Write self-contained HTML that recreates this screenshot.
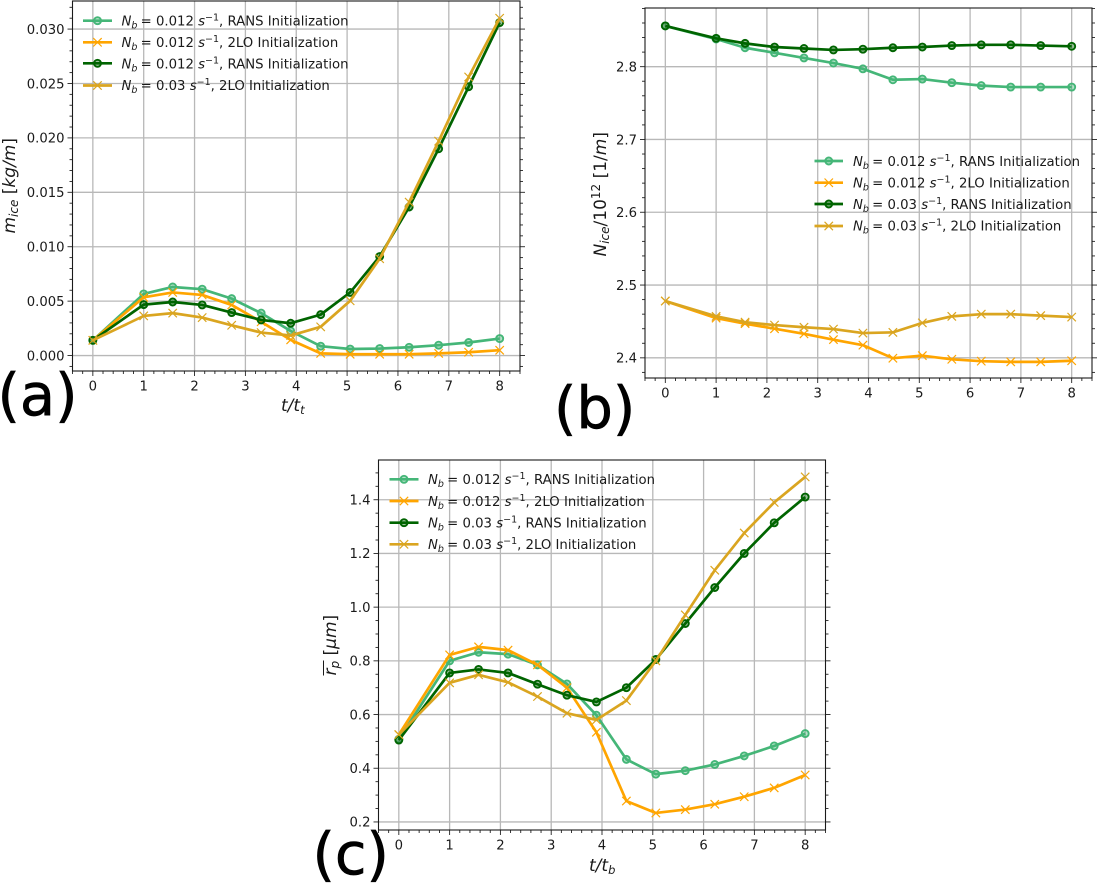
<!DOCTYPE html>
<html lang="en">
<head>
<meta charset="utf-8">
<title>Ice mass, number and particle radius panels</title>
<style>
html,body{margin:0;padding:0;background:#fff;width:1097px;height:883px;overflow:hidden}
svg{display:block;font-family:"DejaVu Sans","Liberation Sans",sans-serif;fill:#1a1a1a}
.leg{font-size:13.25px;white-space:pre}
.ax{font-size:17px;white-space:pre}
.big{font-size:57.5px;fill:#000;stroke:#000;stroke-width:0.7px}
.i{font-style:italic}
.tick-label{font-size:13.2px}
</style>
</head>
<body>
<svg id="figure" xmlns="http://www.w3.org/2000/svg" width="1097" height="883" viewBox="0 0 1097 883">
  <g id="panel-a"></g>
  <g id="panel-b"></g>
  <g id="panel-c"></g>

  <g>
    <text class="leg" x="121.5" y="25.5"><tspan class="i">N</tspan><tspan class="i" dy="3" font-size="9.5">b</tspan><tspan dy="-3" dx="-1"> = 0.012 </tspan><tspan class="i">s</tspan><tspan dy="-5" font-size="9.5">−1</tspan><tspan dy="5">, RANS Initialization</tspan></text>
    <text class="leg" x="121.5" y="47"><tspan class="i">N</tspan><tspan class="i" dy="3" font-size="9.5">b</tspan><tspan dy="-3" dx="-1"> = 0.012 </tspan><tspan class="i">s</tspan><tspan dy="-5" font-size="9.5">−1</tspan><tspan dy="5">, 2LO Initialization</tspan></text>
    <text class="leg" x="121.5" y="68.3"><tspan class="i">N</tspan><tspan class="i" dy="3" font-size="9.5">b</tspan><tspan dy="-3" dx="-1"> = 0.012 </tspan><tspan class="i">s</tspan><tspan dy="-5" font-size="9.5">−1</tspan><tspan dy="5">, RANS Initialization</tspan></text>
    <text class="leg" x="121.5" y="90"><tspan class="i">N</tspan><tspan class="i" dy="3" font-size="9.5">b</tspan><tspan dy="-3" dx="-1"> = 0.03 </tspan><tspan class="i">s</tspan><tspan dy="-5" font-size="9.5">−1</tspan><tspan dy="5">, 2LO Initialization</tspan></text>
  </g>
  <g>
    <text class="leg" x="853" y="165.8"><tspan class="i">N</tspan><tspan class="i" dy="3" font-size="9.5">b</tspan><tspan dy="-3" dx="-1"> = 0.012 </tspan><tspan class="i">s</tspan><tspan dy="-5" font-size="9.5">−1</tspan><tspan dy="5">, RANS Initialization</tspan></text>
    <text class="leg" x="853" y="187.4"><tspan class="i">N</tspan><tspan class="i" dy="3" font-size="9.5">b</tspan><tspan dy="-3" dx="-1"> = 0.012 </tspan><tspan class="i">s</tspan><tspan dy="-5" font-size="9.5">−1</tspan><tspan dy="5">, 2LO Initialization</tspan></text>
    <text class="leg" x="853" y="208.8"><tspan class="i">N</tspan><tspan class="i" dy="3" font-size="9.5">b</tspan><tspan dy="-3" dx="-1"> = 0.03 </tspan><tspan class="i">s</tspan><tspan dy="-5" font-size="9.5">−1</tspan><tspan dy="5">, RANS Initialization</tspan></text>
    <text class="leg" x="853" y="230.5"><tspan class="i">N</tspan><tspan class="i" dy="3" font-size="9.5">b</tspan><tspan dy="-3" dx="-1"> = 0.03 </tspan><tspan class="i">s</tspan><tspan dy="-5" font-size="9.5">−1</tspan><tspan dy="5">, 2LO Initialization</tspan></text>
  </g>
  <g>
    <text class="leg" x="428" y="484"><tspan class="i">N</tspan><tspan class="i" dy="3" font-size="9.5">b</tspan><tspan dy="-3" dx="-1"> = 0.012 </tspan><tspan class="i">s</tspan><tspan dy="-5" font-size="9.5">−1</tspan><tspan dy="5">, RANS Initialization</tspan></text>
    <text class="leg" x="428" y="505.8"><tspan class="i">N</tspan><tspan class="i" dy="3" font-size="9.5">b</tspan><tspan dy="-3" dx="-1"> = 0.012 </tspan><tspan class="i">s</tspan><tspan dy="-5" font-size="9.5">−1</tspan><tspan dy="5">, 2LO Initialization</tspan></text>
    <text class="leg" x="428" y="527.4"><tspan class="i">N</tspan><tspan class="i" dy="3" font-size="9.5">b</tspan><tspan dy="-3" dx="-1"> = 0.03 </tspan><tspan class="i">s</tspan><tspan dy="-5" font-size="9.5">−1</tspan><tspan dy="5">, RANS Initialization</tspan></text>
    <text class="leg" x="428" y="549"><tspan class="i">N</tspan><tspan class="i" dy="3" font-size="9.5">b</tspan><tspan dy="-3" dx="-1"> = 0.03 </tspan><tspan class="i">s</tspan><tspan dy="-5" font-size="9.5">−1</tspan><tspan dy="5">, 2LO Initialization</tspan></text>
  </g>

  <text class="ax" x="281" y="411"><tspan class="i">t/t</tspan><tspan class="i" dy="3" font-size="11.5">t</tspan></text>
  <text class="ax" x="589" y="871"><tspan class="i">t/t</tspan><tspan class="i" dy="3" font-size="11.5">b</tspan></text>

  <text class="ax" transform="translate(15,233.5) rotate(-90)"><tspan class="i">m</tspan><tspan class="i" dy="3" font-size="12">ice</tspan><tspan dy="-3"> [</tspan><tspan class="i">kg/m</tspan><tspan>]</tspan></text>
  <text class="ax" transform="translate(606,256.5) rotate(-90)"><tspan class="i">N</tspan><tspan class="i" dy="3" font-size="12">ice</tspan><tspan dy="-3">/10</tspan><tspan dy="-6" font-size="12">12</tspan><tspan dy="6"> [1/</tspan><tspan class="i">m</tspan><tspan>]</tspan></text>
  <g transform="translate(336,675.5) rotate(-90)">
    <line x1="0" x2="15" y1="-12.5" y2="-12.5" stroke="#1a1a1a" stroke-width="1"></line>
    <text class="ax"><tspan class="i">r</tspan><tspan class="i" dy="3" font-size="12">p</tspan><tspan dy="-3"> [</tspan><tspan class="i">μm</tspan><tspan>]</tspan></text>
  </g>

  <text class="big" x="-2.5" y="415">(a)</text>
  <text class="big" x="554" y="428">(b)</text>
  <text class="big" x="312.5" y="874">(c)</text>
</svg>

<script>
var timeValues = [0, 1, 1.57, 2.15, 2.73, 3.31, 3.89, 4.48, 5.06, 5.64, 6.22, 6.8, 7.39, 8];
var xTickLabels = [0, 1, 2, 3, 4, 5, 6, 7, 8];

var massRans012 = [0.0014, 0.00566, 0.0063, 0.0061, 0.00523, 0.0039, 0.00226, 0.00086, 0.0006, 0.00064, 0.00076, 0.00095, 0.0012, 0.00156];
var mass2lo012 = [0.0014, 0.00535, 0.0058, 0.00557, 0.00465, 0.0031, 0.00144, 0.0002, 0.00012, 0.00012, 0.00012, 0.0002, 0.0003, 0.00049];
var massRans03 = [0.0014, 0.00468, 0.00492, 0.00465, 0.00395, 0.00327, 0.00297, 0.00376, 0.0058, 0.0091, 0.01365, 0.019, 0.0247, 0.0306];
var mass2lo03 = [0.0014, 0.00364, 0.0039, 0.00349, 0.00278, 0.00211, 0.00184, 0.00264, 0.00503, 0.0089, 0.0141, 0.0197, 0.0256, 0.031];
var massTickLabels = ["0.000", "0.005", "0.010", "0.015", "0.020", "0.025", "0.030"];

var numberRans012 = [2.856, 2.838, 2.826, 2.819, 2.812, 2.805, 2.797, 2.782, 2.783, 2.778, 2.774, 2.772, 2.772, 2.772];
var number2lo012 = [2.478, 2.4546, 2.447, 2.44, 2.433, 2.425, 2.4174, 2.3995, 2.403, 2.398, 2.3954, 2.3945, 2.3945, 2.396];
var numberRans03 = [2.856, 2.839, 2.832, 2.827, 2.825, 2.823, 2.824, 2.826, 2.827, 2.829, 2.83, 2.83, 2.829, 2.828];
var number2lo03 = [2.478, 2.457, 2.449, 2.445, 2.442, 2.4395, 2.434, 2.435, 2.448, 2.457, 2.46, 2.46, 2.458, 2.456];
var numberTickLabels = ["2.4", "2.5", "2.6", "2.7", "2.8"];

var radiusRans012 = [0.508, 0.8, 0.832, 0.825, 0.785, 0.714, 0.5975, 0.433, 0.378, 0.391, 0.414, 0.446, 0.483, 0.529];
var radius2lo012 = [0.525, 0.822, 0.852, 0.84, 0.785, 0.7, 0.534, 0.278, 0.2335, 0.246, 0.266, 0.294, 0.327, 0.375];
var radiusRans03 = [0.505, 0.755, 0.768, 0.755, 0.713, 0.672, 0.647, 0.7, 0.805, 0.939, 1.073, 1.2, 1.314, 1.41];
var radius2lo03 = [0.525, 0.718, 0.748, 0.72, 0.667, 0.605, 0.58, 0.652, 0.8, 0.971, 1.1375, 1.276, 1.39, 1.485];
var radiusTickLabels = ["0.2", "0.4", "0.6", "0.8", "1.0", "1.2", "1.4"];

var SVGNS = "http://www.w3.org/2000/svg";
var SERIES_STYLES = [
  {key: "rans-0-012", color: "#3cb371", marker: "circle", opacity: 0.95},
  {key: "2lo-0-012", color: "#ffa500", marker: "x", opacity: 1},
  {key: "rans-0-03", color: "#006400", marker: "circle", opacity: 1},
  {key: "2lo-0-03", color: "#daa520", marker: "x", opacity: 1}
];

function node(tag, attrs, parent) {
  var el = document.createElementNS(SVGNS, tag);
  for (var k in attrs) { el.setAttribute(k, attrs[k]); }
  parent.appendChild(el);
  return el;
}

function scale(domain, range) {
  return function (v) {
    return range[0] + (v - domain[0]) * (range[1] - range[0]) / (domain[1] - domain[0]);
  };
}

function drawMarker(parent, style, px, py, name) {
  var el;
  if (style.marker === "circle") {
    el = node("circle", {cx: px, cy: py, r: 3.5, fill: style.color, "fill-opacity": 0.4, stroke: style.color, "stroke-width": 1.9}, parent);
  } else {
    var s = 4.2;
    el = node("path", {d: "M" + (px - s) + " " + (py - s) + "L" + (px + s) + " " + (py + s) + "M" + (px - s) + " " + (py + s) + "L" + (px + s) + " " + (py - s), fill: "none", stroke: style.color, "stroke-width": 1.2}, parent);
  }
  
  
}

function drawPanel(cfg) {
  var root = document.getElementById(cfg.id);
  var box = cfg.box;
  var x = scale([-0.4, 8.4], [box.left, box.right]);
  var y = scale(cfg.yDomain, [box.bottom, box.top]);

  var grid = node("g", {stroke: "#b8b8b8", "stroke-width": 1.3}, root);
  
  
  xTickLabels.forEach(function (t) {
    var line = node("line", {x1: x(t), x2: x(t), y1: box.top, y2: box.bottom}, grid);
    
    
  });
  cfg.yTicks.forEach(function (label) {
    var line = node("line", {x1: box.left, x2: box.right, y1: y(+label), y2: y(+label)}, grid);
    
    
  });

  var ticks = node("g", {stroke: "#222", "stroke-width": 0.9}, root);
  
  
  var i, v, n;
  n = Math.round(8.4 / 0.2);
  for (i = -2; i <= n; i++) {
    v = i * 0.2;
    if (v < -0.4 || v > 8.4) continue;
    var major = i % 5 === 0;
    node("line", {x1: x(v), x2: x(v), y1: box.bottom, y2: box.bottom + (major ? 5 : 3)}, ticks);
  }
  var first = Math.ceil(cfg.yDomain[0] / cfg.yMinor - 1e-6);
  var last = Math.floor(cfg.yDomain[1] / cfg.yMinor + 1e-6);
  for (i = first; i <= last; i++) {
    v = i * cfg.yMinor;
    var isMajor = Math.abs(v / cfg.yMajor - Math.round(v / cfg.yMajor)) < 1e-6;
    var len = isMajor ? 5 : 3;
    node("line", {x1: box.left - len, x2: box.left, y1: y(v), y2: y(v)}, ticks);
    node("line", {x1: box.right, x2: box.right + len, y1: y(v), y2: y(v)}, ticks);
  }

  xTickLabels.forEach(function (t) {
    var label = node("text", {x: x(t), y: box.bottom + 19.5, "text-anchor": "middle", "class": "tick-label"}, root);
    label.textContent = String(t);
    
    
  });
  cfg.yTicks.forEach(function (text) {
    var label = node("text", {x: box.left - 8, y: y(+text) + 4.8, "text-anchor": "end", "class": "tick-label"}, root);
    label.textContent = text;
    
    
  });

  cfg.series.forEach(function (values, idx) {
    var style = SERIES_STYLES[idx];
    var g = node("g", {opacity: style.opacity}, root);
    
    
    var d = values.map(function (val, j) {
      return (j ? "L" : "M") + x(timeValues[j]) + " " + y(val);
    }).join("");
    var path = node("path", {d: d, fill: "none", stroke: style.color, "stroke-width": 2.7, "stroke-linejoin": "round"}, g);
    
    
    values.forEach(function (val, j) {
      drawMarker(g, style, x(timeValues[j]), y(val), cfg.prefix + '-point-' + style.key);
    });
  });

  var frame = node("rect", {x: box.left, y: box.top, width: box.right - box.left, height: box.bottom - box.top, fill: "none", stroke: "#1a1a1a", "stroke-width": 1.1}, root);
  
  

  var rows = cfg.legend.rows;
  rows.forEach(function (rowY, idx) {
    var style = SERIES_STYLES[idx];
    var g = node("g", {opacity: style.opacity}, root);
    
    
    node("line", {x1: cfg.legend.x1, x2: cfg.legend.x2, y1: rowY, y2: rowY, stroke: style.color, "stroke-width": 2.7}, g);
    drawMarker(g, style, (cfg.legend.x1 + cfg.legend.x2) / 2, rowY, cfg.prefix + '-legend-marker-' + style.key);
  });
}

drawPanel({
  id: "panel-a", prefix: "panel-a",
  box: {left: 72.5, right: 520, top: 1, bottom: 371},
  yDomain: [-0.00142, 0.03258], yMajor: 0.005, yMinor: 0.001,
  yTicks: massTickLabels,
  series: [massRans012, mass2lo012, massRans03, mass2lo03],
  legend: {x1: 83, x2: 112, rows: [20.7, 42.3, 63.3, 85.5]}
});
drawPanel({
  id: "panel-b", prefix: "panel-b",
  box: {left: 645, right: 1092, top: 8, bottom: 378},
  yDomain: [2.3723, 2.8806], yMajor: 0.1, yMinor: 0.02,
  yTicks: numberTickLabels,
  series: [numberRans012, number2lo012, numberRans03, number2lo03],
  legend: {x1: 814.5, x2: 843, rows: [161, 182.7, 204, 226]}
});
drawPanel({
  id: "panel-c", prefix: "panel-c",
  box: {left: 378.5, right: 825.5, top: 460, bottom: 830},
  yDomain: [0.17, 1.548], yMajor: 0.2, yMinor: 0.05,
  yTicks: radiusTickLabels,
  series: [radiusRans012, radius2lo012, radiusRans03, radius2lo03],
  legend: {x1: 389.5, x2: 418.5, rows: [479.3, 501, 522.7, 544.3]}
});
</script>
</body>
</html>
